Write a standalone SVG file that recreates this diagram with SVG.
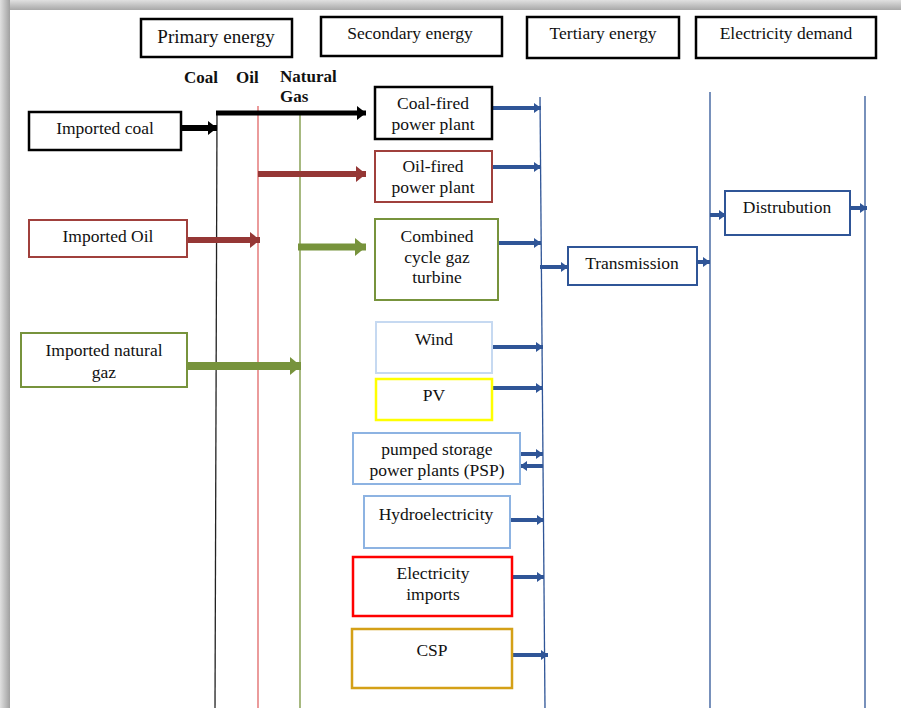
<svg xmlns="http://www.w3.org/2000/svg" width="901" height="708" viewBox="0 0 901 708">
<defs>
<linearGradient id="gt" x1="0" y1="0" x2="0" y2="1"><stop offset="0" stop-color="#e0e0e0"/><stop offset="1" stop-color="#a8a8a8"/></linearGradient>
<linearGradient id="gl" x1="0" y1="0" x2="1" y2="0"><stop offset="0" stop-color="#e0e0e0"/><stop offset="1" stop-color="#a0a0a0"/></linearGradient>
<marker id="mb" markerUnits="userSpaceOnUse" markerWidth="7" markerHeight="10" refX="7" refY="5" orient="auto"><path d="M0,0 L7,5 L0,10 z" fill="#2f5597"/></marker>
<marker id="mk" markerUnits="userSpaceOnUse" markerWidth="9" markerHeight="14" refX="9" refY="7" orient="auto"><path d="M0,0 L9,7 L0,14 z" fill="#000"/></marker>
<marker id="mr" markerUnits="userSpaceOnUse" markerWidth="10" markerHeight="16" refX="10" refY="8" orient="auto"><path d="M0,0 L10,8 L0,16 z" fill="#953735"/></marker>
<marker id="mg" markerUnits="userSpaceOnUse" markerWidth="11" markerHeight="18" refX="11" refY="9" orient="auto"><path d="M0,0 L11,9 L0,18 z" fill="#77933c"/></marker>
</defs>
<style>
text{font-family:"Liberation Serif",serif;font-size:17.5px;fill:#111;text-anchor:middle}
.hd{font-size:19px}
.b{font-weight:bold;font-size:17px;text-anchor:start}
rect.n{fill:#fff}
.ab{stroke:#2f5597;stroke-width:4;fill:none;marker-end:url(#mb)}
.vb{stroke:#2f5597;stroke-width:1.3}
</style>
<rect width="901" height="708" fill="#fff"/>
<rect x="0" y="0" width="901" height="10" fill="url(#gt)"/>
<rect x="0" y="0" width="10" height="708" fill="url(#gl)"/>
<rect x="10" y="10" width="891" height="698" fill="#fff"/>

<g id="connectors">
<line x1="217" y1="113" x2="215" y2="708" stroke="#222" stroke-width="1.3"/>
<line x1="258" y1="106" x2="258" y2="708" stroke="#e06666" stroke-width="1.3"/>
<line x1="300" y1="115" x2="300" y2="708" stroke="#77933c" stroke-width="1.3"/>
<line class="vb" x1="540" y1="97" x2="545" y2="708"/>
<line class="vb" x1="710" y1="92" x2="710" y2="708"/>
<line class="vb" x1="865" y1="96" x2="865" y2="708"/>
<line x1="181" y1="128" x2="217" y2="128" stroke="#000" stroke-width="6" marker-end="url(#mk)"/>
<line x1="216" y1="113" x2="366" y2="113" stroke="#000" stroke-width="5" marker-end="url(#mk)"/>
<line x1="258" y1="174" x2="366" y2="174" stroke="#953735" stroke-width="6" marker-end="url(#mr)"/>
<line x1="187" y1="240" x2="260" y2="240" stroke="#953735" stroke-width="6" marker-end="url(#mr)"/>
<line x1="298" y1="247" x2="366" y2="247" stroke="#77933c" stroke-width="7" marker-end="url(#mg)"/>
<line x1="187" y1="366" x2="301" y2="366" stroke="#77933c" stroke-width="8" marker-end="url(#mg)"/>
<line class="ab" x1="492" y1="108" x2="541" y2="108"/>
<line class="ab" x1="492" y1="167" x2="541" y2="167"/>
<line class="ab" x1="498" y1="243" x2="541" y2="243"/>
<line class="ab" x1="540" y1="267" x2="568" y2="267"/>
<line class="ab" x1="697" y1="262" x2="710" y2="262"/>
<line class="ab" x1="710" y1="215" x2="726" y2="215"/>
<line class="ab" x1="850" y1="208" x2="867" y2="208"/>
<line class="ab" x1="492" y1="347" x2="543" y2="347"/>
<line class="ab" x1="492" y1="388" x2="543" y2="388"/>
<line class="ab" x1="520" y1="454" x2="543" y2="454"/>
<line class="ab" x1="543" y1="466" x2="520" y2="466"/>
<line class="ab" x1="510" y1="520" x2="544" y2="520"/>
<line class="ab" x1="512" y1="577" x2="544" y2="577"/>
<line class="ab" x1="512" y1="655" x2="548" y2="655"/>
</g>

<g id="primary-energy"><rect class="n" x="141" y="19" width="151" height="38" stroke="#000" stroke-width="2.5"/><text class="hd" x="216" y="43">Primary energy</text></g>
<g id="secondary-energy"><rect class="n" x="321" y="17" width="181" height="39" stroke="#000" stroke-width="2.5"/><text x="410" y="39">Secondary energy</text></g>
<g id="tertiary-energy"><rect class="n" x="527" y="17" width="152" height="41" stroke="#000" stroke-width="2.5"/><text x="603" y="39">Tertiary energy</text></g>
<g id="electricity-demand"><rect class="n" x="696" y="17" width="180" height="41" stroke="#000" stroke-width="2.5"/><text x="786" y="39">Electricity demand</text></g>

<g id="labels">
<text class="b" x="184" y="83">Coal</text>
<text class="b" x="236" y="83">Oil</text>
<text class="b" x="280" y="82">Natural</text>
<text class="b" x="280" y="102">Gas</text>
</g>

<g id="imported-coal"><rect class="n" x="29" y="112" width="152" height="38" stroke="#000" stroke-width="2.5"/><text x="105" y="134">Imported coal</text></g>
<g id="imported-oil"><rect class="n" x="29" y="220" width="158" height="37" stroke="#a0403c" stroke-width="2"/><text x="108" y="242">Imported Oil</text></g>
<g id="imported-gas"><rect class="n" x="21" y="333" width="166" height="54" stroke="#77933c" stroke-width="2"/><text x="104" y="356">Imported natural</text><text x="104" y="378">gaz</text></g>

<g id="coal-fired"><rect class="n" x="375" y="87" width="117" height="52" stroke="#000" stroke-width="2.5"/><text x="433" y="109">Coal-fired</text><text x="433" y="130">power plant</text></g>
<g id="oil-fired"><rect class="n" x="375" y="151" width="117" height="51" stroke="#a0403c" stroke-width="2"/><text x="433" y="172">Oil-fired</text><text x="433" y="193">power plant</text></g>
<g id="combined-cycle"><rect class="n" x="375" y="219" width="123" height="81" stroke="#77933c" stroke-width="2"/><text x="437" y="242">Combined</text><text x="437" y="263">cycle gaz</text><text x="437" y="283">turbine</text></g>
<g id="wind"><rect class="n" x="376" y="322" width="116" height="51" stroke="#c6d9f1" stroke-width="2"/><text x="434" y="345">Wind</text></g>
<g id="pv"><rect class="n" x="376" y="379" width="116" height="41" stroke="#ffff00" stroke-width="2.5"/><text x="434" y="401">PV</text></g>
<g id="psp"><rect class="n" x="353" y="433" width="167" height="51" stroke="#8db3e2" stroke-width="2"/><text x="437" y="455">pumped storage</text><text x="437" y="476">power plants (PSP)</text></g>
<g id="hydro"><rect class="n" x="364" y="496" width="146" height="52" stroke="#8db3e2" stroke-width="2"/><text x="436" y="520">Hydroelectricity</text></g>
<g id="elec-imports"><rect class="n" x="353" y="557" width="159" height="59" stroke="#ff0000" stroke-width="2.5"/><text x="433" y="579">Electricity</text><text x="433" y="600">imports</text></g>
<g id="csp"><rect class="n" x="352" y="629" width="160" height="59" stroke="#d4a017" stroke-width="2.5"/><text x="432" y="656">CSP</text></g>

<g id="transmission"><rect class="n" x="568" y="247" width="129" height="38" stroke="#2f5597" stroke-width="2"/><text x="632" y="269">Transmission</text></g>
<g id="distrubution"><rect class="n" x="725" y="191" width="125" height="44" stroke="#2f5597" stroke-width="2"/><text x="787" y="213">Distrubution</text></g>
</svg>
